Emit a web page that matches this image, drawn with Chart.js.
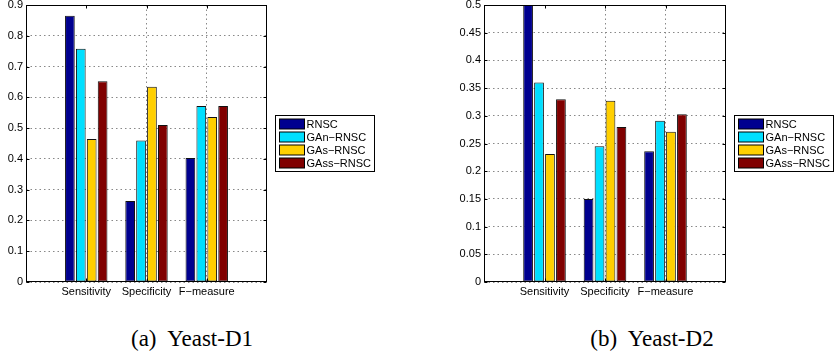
<!DOCTYPE html>
<html>
<head>
<meta charset="utf-8">
<script src="https://cdn.jsdelivr.net/npm/chart.js@4.4.1/dist/chart.umd.min.js"></script>
<style>
  body { margin: 0; background: #fff; }
  .wrap { position: relative; width: 834px; height: 357px; overflow: hidden; background: #fff; }
  .panel { position: absolute; top: 0; width: 417px; height: 300px; }
  .caption { position: absolute; top: 327px; font: 23px/23px "Liberation Serif", "Times New Roman", serif;
             white-space: pre; transform: translateX(-50%); color: #000; }
</style>
</head>
<body>
<div class="wrap">
  <div class="panel" style="left:0"><canvas id="chartD1" width="417" height="300"></canvas></div>
  <div class="panel" style="left:417px"><canvas id="chartD2" width="417" height="300"></canvas></div>
  <div class="caption" style="left:192px">(a)  Yeast-D1</div>
  <div class="caption" style="left:652px">(b)  Yeast-D2</div>
</div>
<script>
// --- Data ---
const categories = ['Sensitivity', 'Specificity', 'F\u2212measure'];
const methods = ['RNSC', 'GAn\u2212RNSC', 'GAs\u2212RNSC', 'GAss\u2212RNSC'];
const colors = ['#00008F', '#00DFFF', '#FFCF00', '#800000'];

// Yeast-D1
const d1Rnsc = [0.865, 0.263, 0.403];
const d1Gan  = [0.758, 0.460, 0.572];
const d1Gas  = [0.465, 0.634, 0.536];
const d1Gass = [0.652, 0.510, 0.572];
const d1YMax = 0.9, d1Step = 0.1;

// Yeast-D2
const d2Rnsc = [0.500, 0.150, 0.236];
const d2Gan  = [0.360, 0.245, 0.291];
const d2Gas  = [0.231, 0.327, 0.271];
const d2Gass = [0.330, 0.280, 0.303];
const d2YMax = 0.5, d2Step = 0.05;

Chart.defaults.font.family = '"Liberation Sans", Arial, sans-serif';
Chart.defaults.font.size = 11;
Chart.defaults.color = '#000';

// empty slots either side so the categories sit at 1, 2, 3 on a 0..4 axis
const pad = arr => [null, ...arr, null];

// --- Box, inward ticks and boxed legend, MATLAB style ---
const matlabFrame = {
    id: 'matlabFrame',
    afterDraw(chart) {
        const { ctx, chartArea: a, scales } = chart;
        const L = Math.round(a.left) + 0.5, R = Math.round(a.right) - 0.5;
        const T = Math.round(a.top) + 0.5, B = Math.round(a.bottom) - 0.5;
        ctx.save();
        ctx.strokeStyle = '#000';
        ctx.lineWidth = 1;
        ctx.beginPath();
        scales.y.ticks.forEach(t => {
            const y = Math.round(scales.y.getPixelForValue(t.value)) + 0.5;
            ctx.moveTo(L, y); ctx.lineTo(L + 3, y);
            ctx.moveTo(R, y); ctx.lineTo(R - 3, y);
        });
        [1, 2, 3].forEach(i => {
            const x = Math.round(scales.x.getPixelForValue(i)) + 0.5;
            ctx.moveTo(x, B); ctx.lineTo(x, B - 3);
            ctx.moveTo(x, T); ctx.lineTo(x, T + 3);
        });
        ctx.stroke();
        ctx.strokeRect(L, T, R - L, B - T);

        // legend
        const lx = Math.round(a.right) + 8.5, ly = 115.5;
        ctx.fillStyle = '#fff';
        ctx.fillRect(lx, ly, 99, 56);
        ctx.strokeRect(lx, ly, 99, 56);
        ctx.font = '11px "Liberation Sans", Arial, sans-serif';
        ctx.textBaseline = 'middle';
        chart.data.datasets.forEach((ds, i) => {
            const cy = Math.round(ly + 8 + i * 13.3);
            ctx.fillStyle = ds.backgroundColor;
            ctx.fillRect(lx + 4, cy - 5, 25, 10);
            ctx.strokeRect(lx + 4, cy - 5, 25, 10);
            ctx.fillStyle = '#000';
            ctx.fillText(ds.label, lx + 31, cy + 0.5);
        });
        ctx.restore();
    }
};

function makeChart(id, series, yMax, yStep, yWidth, rightPad) {
    const ctx = document.getElementById(id).getContext('2d');
    return new Chart(ctx, {
        type: 'bar',
        data: {
            labels: pad(categories),
            datasets: series.map((s, i) => ({
                label: methods[i],
                data: pad(s),
                backgroundColor: colors[i],
                borderColor: '#111',
                borderWidth: 1,
                borderSkipped: false,
                categoryPercentage: 0.724,
                barPercentage: 0.89
            }))
        },
        options: {
            responsive: false,
            animation: false,
            events: [],
            layout: { padding: { top: 5, right: rightPad, left: 0, bottom: 0 } },
            plugins: { legend: { display: false }, tooltip: { enabled: false } },
            scales: {
                x: {
                    offset: false,
                    grid: {
                        offset: false,
                        drawTicks: false,
                        color: c => (c.index === 0 || c.index === 4) ? 'rgba(0,0,0,0)' : '#888',
                        lineWidth: 1
                    },
                    border: { display: false, dash: [1.5, 3] },
                    ticks: { padding: 3, maxRotation: 0, autoSkip: false },
                    afterFit: s => { s.height = 18; s.paddingLeft = 0; s.paddingRight = 0; }
                },
                y: {
                    min: 0,
                    max: yMax,
                    grid: { drawTicks: false, color: '#888', lineWidth: 1 },
                    border: { display: false, dash: [1.5, 3] },
                    ticks: {
                        stepSize: yStep,
                        padding: 3,
                        callback: v => String(+v.toFixed(2))
                    },
                    afterFit: s => { s.width = yWidth; s.paddingTop = 0; s.paddingBottom = 0; }
                }
            }
        },
        plugins: [matlabFrame]
    });
}

makeChart('chartD1', [d1Rnsc, d1Gan, d1Gas, d1Gass], d1YMax, d1Step, 26, 150);
makeChart('chartD2', [d2Rnsc, d2Gan, d2Gas, d2Gass], d2YMax, d2Step, 67, 108);
</script>
</body>
</html>
